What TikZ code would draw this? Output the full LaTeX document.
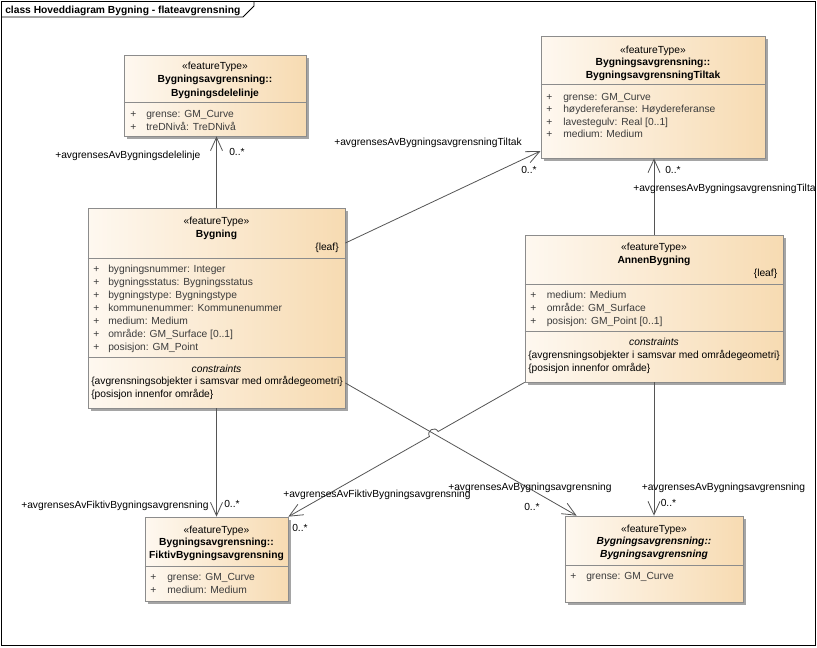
\documentclass[tikz,border=0pt]{standalone}
\usepackage{fontspec}
\setmainfont{Liberation Sans}
\usetikzlibrary{arrows.meta,fit,calc}
\definecolor{boxl}{RGB}{254,248,240}
\definecolor{boxr}{RGB}{247,219,178}
\definecolor{boxline}{RGB}{140,140,140}
\definecolor{shadowc}{RGB}{165,165,165}
\definecolor{conn}{RGB}{85,85,85}
\definecolor{attrc}{RGB}{60,60,60}
\newcommand{\fsz}{\fontsize{7.7}{9.5}\selectfont}
\tikzset{
 classbox/.style={draw=boxline, left color=boxl, right color=boxr, inner sep=0pt, line width=0.6pt},
 sepline/.style={draw=boxline, line width=0.5pt},
 txt/.style={inner sep=0pt, font=\fsz, text height=6pt, text depth=1.7pt, yshift=-0.8pt},
 stereo/.style={txt, anchor=center},
 cname/.style={txt, anchor=center, font=\fsz\bfseries},
 aname/.style={txt, anchor=center, font=\fsz\bfseries\itshape},
 consh/.style={txt, anchor=center, font=\fsz\itshape},
 attr/.style={txt, anchor=west, text=attrc},
 plus/.style={txt, anchor=west, text=attrc},
 cons/.style={txt, anchor=west},
 leafl/.style={txt, anchor=east},
 lbl/.style={txt, anchor=west},
 frame/.style={draw=black, line width=0.6pt},
 assoc/.style={draw=conn, line width=0.6pt, -{Straight Barb[length=10pt,width=9pt]}},
}
\newcommand{\umlbox}[5]{\fill[shadowc] (#2+3,#3+3) rectangle (#4+3,#5+3); \node[classbox, fit={(#2,#3)(#4,#5)}] (#1) {};}
\newcommand{\attrline}[5]{\node[plus] (#1p) at (#2,#4) {+}; \node[attr] (#1) at (#3,#4) {#5};}
\begin{document}
\begin{tikzpicture}[x=0.75pt,y=-0.75pt]
\useasboundingbox (0,0) rectangle (817,647);
\fill[white] (0,0) rectangle (817,647);
% frame
\draw[frame] (1,1) rectangle (815,645);
\draw[frame] (1,17) -- (243,17) -- (254,6) -- (254,1);
\node[txt, anchor=west, font=\fsz\bfseries] (title) at (5,9.5) {class Hoveddiagram Bygning - flateavgrensning};

% boxes
\umlbox{delelinje}{124}{55}{306}{136}
\umlbox{tiltak}{541}{36}{765}{158}
\umlbox{bygning}{88}{208}{345}{408}
\umlbox{annen}{525}{235}{783}{382}
\umlbox{fiktiv}{145}{517}{288}{601}
\umlbox{avgr}{565}{516}{743}{602}

% Bygningsdelelinje
\node[stereo] (d1) at (215,66) {«featureType»};
\node[cname] (d2) at (215,79) {Bygningsavgrensning::};
\node[cname] (d3) at (215,92.5) {Bygningsdelelinje};
\draw[sepline] (delelinje.west |- 0,102) -- (delelinje.east |- 0,102);
\attrline{da1}{130}{146}{114}{grense: GM\_Curve}
\attrline{da2}{130}{146}{127}{treDNivå: TreDNivå}

% Tiltak
\node[stereo] (t1) at (653,50) {«featureType»};
\node[cname] (t2) at (653,62) {Bygningsavgrensning::};
\node[cname] (t3) at (653,74.5) {BygningsavgrensningTiltak};
\draw[sepline] (tiltak.west |- 0,84.5) -- (tiltak.east |- 0,84.5);
\attrline{ta1}{546}{563}{96.5}{grense: GM\_Curve}
\attrline{ta2}{546}{563}{109}{høydereferanse: Høydereferanse}
\attrline{ta3}{546}{563}{121.5}{lavestegulv: Real [0..1]}
\attrline{ta4}{546}{563}{134}{medium: Medium}

% Bygning
\node[stereo] (b1) at (216.5,220.5) {«featureType»};
\node[cname] (b2) at (216.5,234) {Bygning};
\node[leafl] (b3) at (339,247) {\{leaf\}};
\draw[sepline] (bygning.west |- 0,258) -- (bygning.east |- 0,258);
\attrline{ba1}{93}{108}{268.5}{bygningsnummer: Integer}
\attrline{ba2}{93}{108}{281.5}{bygningsstatus: Bygningsstatus}
\attrline{ba3}{93}{108}{294.5}{bygningstype: Bygningstype}
\attrline{ba4}{93}{108}{307.5}{kommunenummer: Kommunenummer}
\attrline{ba5}{93}{108}{320.5}{medium: Medium}
\attrline{ba6}{93}{108}{333.5}{område: GM\_Surface [0..1]}
\attrline{ba7}{93}{108}{346.5}{posisjon: GM\_Point}
\draw[sepline] (bygning.west |- 0,357.5) -- (bygning.east |- 0,357.5);
\node[consh] (bc0) at (216.5,368.5) {constraints};
\node[cons] (bc1) at (91,381) {\{avgrensningsobjekter i samsvar med områdegeometri\}};
\node[cons] (bc2) at (91,394) {\{posisjon innenfor område\}};

% AnnenBygning
\node[stereo] (a1) at (654,247) {«featureType»};
\node[cname] (a2) at (654,260) {AnnenBygning};
\node[leafl] (a3) at (777.5,273) {\{leaf\}};
\draw[sepline] (annen.west |- 0,284) -- (annen.east |- 0,284);
\attrline{aa1}{530}{546.5}{294.5}{medium: Medium}
\attrline{aa2}{530}{546.5}{307.5}{område: GM\_Surface}
\attrline{aa3}{530}{546.5}{320.5}{posisjon: GM\_Point [0..1]}
\draw[sepline] (annen.west |- 0,331) -- (annen.east |- 0,331);
\node[consh] (ac0) at (654,341.5) {constraints};
\node[cons] (ac1) at (528,354.5) {\{avgrensningsobjekter i samsvar med områdegeometri\}};
\node[cons] (ac2) at (528,367.5) {\{posisjon innenfor område\}};

% Fiktiv
\node[stereo] (f1) at (216.5,529.5) {«featureType»};
\node[cname] (f2) at (216.5,542) {Bygningsavgrensning::};
\node[cname] (f3) at (216.5,555) {FiktivBygningsavgrensning};
\draw[sepline] (fiktiv.west |- 0,566) -- (fiktiv.east |- 0,566);
\attrline{fa1}{150}{167}{577}{grense: GM\_Curve}
\attrline{fa2}{150}{167}{589.5}{medium: Medium}

% Bygningsavgrensning (abstract)
\node[stereo] (g1) at (654,528.5) {«featureType»};
\node[aname] (g2) at (654,540.5) {Bygningsavgrensning::};
\node[aname] (g3) at (654,553.5) {Bygningsavgrensning};
\draw[sepline] (avgr.west |- 0,565) -- (avgr.east |- 0,565);
\attrline{ga1}{570}{586}{576}{grense: GM\_Curve}

% connectors
\draw[assoc] (bygning.north) -- (bygning.north |- delelinje.south);
\draw[assoc] (bygning.east |- 0,243) -- (tiltak.west |- 0,151);
\draw[assoc] (annen.north) -- (annen.north |- tiltak.south);
\draw[assoc] (bygning.south) -- (bygning.south |- fiktiv.north);
\draw[assoc] (annen.south) -- (annen.south |- avgr.north);
\draw[assoc] (bygning.east |- 0,383) -- ($(avgr.north west)+(12,0)$);
\draw[assoc] (annen.south west) -- (438.15,431.5) .. controls (434.8,425.7) and (426.1,430.7) .. (429.45,436.5) -- (fiktiv.north east);

% labels
\node[lbl] (l1) at (55,155) {+avgrensesAvBygningsdelelinje};
\node[lbl] (m1) at (229,151.5) {0..*};
\node[lbl] (l2) at (334,141.5) {+avgrensesAvBygningsavgrensningTiltak};
\node[lbl] (m2) at (521,170) {0..*};
\node[lbl] (m3) at (665,170) {0..*};
\begin{scope}
\clip (0,0) rectangle (815,647);
\node[lbl] (l3) at (633,188) {+avgrensesAvBygningsavgrensningTiltak};
\end{scope}
\node[lbl] (l4) at (21,505) {+avgrensesAvFiktivBygningsavgrensning};
\node[lbl] (m4) at (224,504) {0..*};
\node[lbl] (l5) at (283,494) {+avgrensesAvFiktivBygningsavgrensning};
\node[lbl] (m5) at (292,528) {0..*};
\node[lbl] (l6) at (448,487) {+avgrensesAvBygningsavgrensning};
\node[lbl] (m6) at (524,506.5) {0..*};
\node[lbl] (l7) at (641.5,487) {+avgrensesAvBygningsavgrensning};
\node[lbl] (m7) at (660.5,503) {0..*};
\end{tikzpicture}
\end{document}
